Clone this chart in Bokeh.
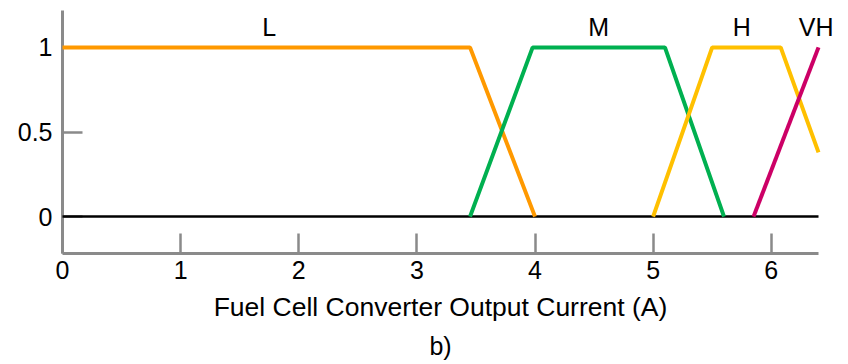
from bokeh.plotting import figure
from bokeh.models import Range1d, FixedTicker, Title
from bokeh.core.properties import value
from bokeh.embed import file_html
from bokeh.resources import INLINE

# Membership functions of the fuel cell converter output current (A)
low_x = [0.0, 3.45, 4.0]
low_y = [1.0, 1.0, 0.0]
mid_x = [3.45, 3.98, 5.1, 5.6]
mid_y = [0.0, 1.0, 1.0, 0.0]
high_x = [5.0, 5.5, 6.08, 6.4]
high_y = [0.0, 1.0, 1.0, 0.38]
vhigh_x = [5.85, 6.4]
vhigh_y = [0.0, 1.0]

set_names = ["L", "M", "H", "VH"]
name_x = [1.75, 4.54, 5.75, 6.38]
name_y = [1.12, 1.12, 1.12, 1.12]

x_max = 6.4
x_ticks = [0, 1, 2, 3, 4, 5, 6]
y_ticks = [0, 0.5, 1]
y_tick_labels = {0: "0", 0.5: "0.5", 1: "1"}

FONT = "Liberation Sans"
AXIS_GREY = "#8a8a8a"

p = figure(
    width=848, height=364,
    x_range=Range1d(0, x_max), y_range=Range1d(-0.218, 1.218),
    output_backend="svg", toolbar_location=None,
    min_border_left=62, min_border_right=30,
    min_border_top=10, min_border_bottom=110,
)
p.outline_line_color = None
p.xgrid.visible = False
p.ygrid.visible = False
p.background_fill_color = "white"
p.border_fill_color = "white"

# zero line and the four sets, drawn above the axis ticks
p.line([0, x_max], [0, 0], line_color="black", line_width=2.5, level="overlay")
p.line(low_x, low_y, line_color="#FF9900", line_width=4, level="overlay")
p.line(mid_x, mid_y, line_color="#00B050", line_width=4, level="overlay")
p.line(high_x, high_y, line_color="#FFC000", line_width=4, level="overlay")
p.line(vhigh_x, vhigh_y, line_color="#CC0066", line_width=4, level="overlay")

# set names above the plateaus
p.text(name_x, name_y, text=set_names, text_font=value(FONT),
       text_font_size="25px", text_align="center",
       text_baseline="middle", text_color="black", level="overlay")

for ax in (p.xaxis[0], p.yaxis[0]):
    ax.axis_line_color = AXIS_GREY
    ax.axis_line_width = 3
    ax.major_tick_line_color = AXIS_GREY
    ax.major_tick_line_width = 2.5
    ax.major_tick_in = 20
    ax.major_tick_out = 0
    ax.minor_tick_line_color = None
    ax.major_label_text_font = FONT
    ax.major_label_text_font_size = "25px"
    ax.major_label_text_color = "black"

xa = p.xaxis[0]
xa.ticker = FixedTicker(ticks=x_ticks)
xa.major_label_standoff = 7
xa.axis_label = "Fuel Cell Converter Output Current (A)"
xa.axis_label_text_font = FONT
xa.axis_label_text_font_size = "26.5px"
xa.axis_label_text_font_style = "normal"
xa.axis_label_text_color = "black"
xa.axis_label_standoff = 10

ya = p.yaxis[0]
ya.ticker = FixedTicker(ticks=y_ticks)
ya.major_label_overrides = y_tick_labels
ya.major_label_standoff = 10

p.add_layout(Title(text="b)", align="center", text_font=FONT,
                   text_font_size="25px", text_font_style="normal",
                   text_color="black"), "below")

open("out.html", "w").write(file_html(p, INLINE))
